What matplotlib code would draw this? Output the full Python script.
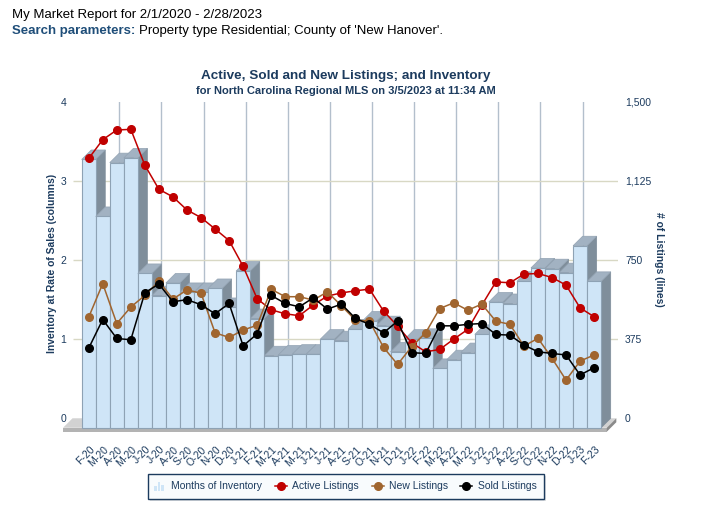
# Active, Sold and New Listings; and Inventory - New Hanover, Feb 2020 - Feb 2023
import numpy as np
import matplotlib.pyplot as plt
from matplotlib.patches import Polygon, Rectangle
from matplotlib.lines import Line2D

plt.rcParams['font.family'] = ['Liberation Sans', 'DejaVu Sans']

# data
months = ['F-20', 'M-20', 'A-20', 'M-20', 'J-20', 'J-20', 'A-20', 'S-20', 'O-20', 'N-20',
          'D-20', 'J-21', 'F-21', 'M-21', 'A-21', 'M-21', 'J-21', 'J-21', 'A-21', 'S-21',
          'O-21', 'N-21', 'D-21', 'J-22', 'F-22', 'M-22', 'A-22', 'M-22', 'J-22', 'J-22',
          'A-22', 'S-22', 'O-22', 'N-22', 'D-22', 'J-23', 'F-23']
inventory = [3.39, 2.67, 3.35, 3.41, 1.95, 1.67, 1.83, 1.71, 1.71, 1.76,
             1.52, 1.98, 1.38, 0.91, 0.92, 0.93, 0.93, 1.12, 1.10, 1.25,
             1.35, 1.29, 0.96, 1.12, 1.13, 0.75, 0.86, 0.95, 1.18, 1.59,
             1.57, 1.85, 2.02, 2.01, 1.96, 2.30, 1.85]
active = [1231, 1320, 1366, 1369, 1199, 1085, 1049, 987, 951, 897,
          842, 720, 566, 514, 495, 486, 537, 579, 594, 604,
          612, 508, 437, 358, 315, 326, 375, 421, 536, 646,
          642, 683, 686, 667, 631, 523, 481]
new_listings = [479, 638, 449, 527, 582, 649, 565, 608, 593, 405,
                383, 418, 441, 611, 576, 576, 560, 599, 533, 465,
                460, 336, 255, 339, 405, 520, 547, 512, 541, 460,
                445, 342, 379, 284, 181, 271, 300]
sold = [332, 468, 378, 372, 595, 636, 552, 562, 538, 495,
        544, 343, 400, 582, 544, 528, 571, 517, 541, 473,
        445, 405, 460, 311, 307, 438, 438, 445, 449, 397,
        394, 347, 315, 307, 300, 205, 240]

navy = '#1c3b5e'
W, H = 707, 515
fig = plt.figure(figsize=(W / 100, H / 100), dpi=100)

# main axes in pixel positions
l_px, r_px, t_px, b_px = 73, 618, 101.7, 434.1
ax = fig.add_axes([l_px / W, 1 - b_px / H, (r_px - l_px) / W, (b_px - t_px) / H])
ax.set_xlim(-1.118, 37.70)
ax.set_ylim(-0.2, 4)
for s in ax.spines.values():
    s.set_visible(False)

dx, dy = 0.68, 0.12  # 3d depth offset

# back wall grid
for b in np.arange(1.5, 35, 3):
    ax.plot([b + dx, b + dx], [0, 4], color='#b3bfcc', lw=1, zorder=1)
ax.hlines([1, 2, 3], -1.118, 37.70, color='#d8d8c4', lw=1, zorder=1)

# floor slab
fl, fr, th = -1.83, 36.9, 0.05
ax.add_patch(Polygon([(fl, -dy), (fr, -dy), (fr + dx, 0), (fl + dx, 0)],
                     fc='#d2d2d2', ec='none', zorder=1.5, clip_on=False))
ax.add_patch(Polygon([(fl, -dy), (fr, -dy), (fr, -dy - th), (fl, -dy - th)],
                     fc='#b3b3b3', ec='none', zorder=1.5, clip_on=False))
ax.add_patch(Polygon([(fr, -dy - th), (fr, -dy), (fr + dx, 0), (fr + dx, -th)],
                     fc='#8a8a8a', ec='none', zorder=1.5, clip_on=False))

# 3d columns, left to right
for i, v in enumerate(inventory):
    z = 2 + i * 0.003
    x0, x1 = i - 0.5, i + 0.5
    ax.add_patch(Polygon([(x1, -dy), (x1, v - dy), (x1 + dx, v), (x1 + dx, 0)],
                         fc='#7f8e9b', ec='#7f8e9b', lw=0.5, zorder=z, clip_on=False))
    ax.add_patch(Polygon([(x0, v - dy), (x1, v - dy), (x1 + dx, v), (x0 + dx, v)],
                         fc='#a2b2c2', ec='#93a3b3', lw=0.5, zorder=z + 0.001, clip_on=False))
    ax.add_patch(Rectangle((x0, -dy), 1, v, fc='#cfe5f7', ec='#8ea2b4', lw=0.8,
                           zorder=z + 0.002, clip_on=False))

x = np.arange(len(months))
ax.set_xticks([])
for i, m in enumerate(months):
    ax.text(i + 0.3, -0.375, m, rotation=45, ha='right', va='center',
            rotation_mode='anchor', fontsize=7.5, color=navy, clip_on=False)

ax.set_yticks([0, 1, 2, 3, 4])
ax.tick_params(axis='y', length=0, pad=5, labelsize=7.5, labelcolor=navy)

# listings on the right axis
ax2 = ax.twinx()
ax2.set_ylim(-75, 1500)
ax2.patch.set_visible(False)
for s in ax2.spines.values():
    s.set_visible(False)
ax2.plot(x, active, '-o', color='#c00000', lw=1.1, ms=5.5, zorder=5)
ax2.plot(x, new_listings, '-o', color='#a0652f', lw=1.1, ms=5.5, zorder=5)
ax2.plot(x, sold, '-o', color='black', lw=1.1, ms=5.5, zorder=5)
ax2.set_yticks([0, 375, 750, 1125, 1500])
ax2.set_yticklabels(['0', '375', '750', '1,125', '1,500'])
ax2.tick_params(axis='y', length=0, pad=5, labelsize=7.5, labelcolor=navy)

# axis names
fig.text(52 / W, 1 - 263 / H, 'Inventory at Rate of Sales (columns)', rotation=90,
         ha='center', va='center', fontsize=7.5, weight='bold', color=navy)
fig.text(659 / W, 1 - 259 / H, '# of Listings (lines)', rotation=270,
         ha='center', va='center', fontsize=7.5, weight='bold', color=navy)

# titles
fig.text(345.5 / W, 1 - 76 / H, 'Active, Sold and New Listings; and Inventory',
         ha='center', va='center', fontsize=9.7, weight='bold', color=navy)
fig.text(345.5 / W, 1 - 91 / H, 'for North Carolina Regional MLS on 3/5/2023 at 11:34 AM',
         ha='center', va='center', fontsize=8, weight='bold', color=navy)

# report header
fig.text(12 / W, 1 - 15 / H, 'My Market Report for 2/1/2020 - 2/28/2023',
         ha='left', va='center', fontsize=9.5, color='black')
sp = fig.text(12 / W, 1 - 31 / H, 'Search parameters:', ha='left', va='center',
              fontsize=9.5, weight='bold', color='#1f4e79')
bb = sp.get_window_extent(renderer=fig.canvas.get_renderer())
fig.text((bb.x1 + 3.5) / W, 1 - 31 / H, "Property type Residential; County of 'New Hanover'.",
         ha='left', va='center', fontsize=9.5, color='black')

# legend box
lax = fig.add_axes([140 / W, 1 - 505 / H, 415 / W, 40 / H])
lax.set_xlim(140, 555)
lax.set_ylim(505, 465)
lax.axis('off')
lax.add_patch(Rectangle((149.5, 475.5), 397, 25, fc='#c8ccd0', ec='none', alpha=0.6))
lax.add_patch(Rectangle((147.5, 473.5), 397, 25, fc='#f8fbfd', ec=navy, lw=1))
for bx, bh in zip([154, 157.5, 161], [5, 9, 6]):
    lax.add_patch(Rectangle((bx, 491 - bh), 2.6, bh, fc='#cfe5f7', ec='none'))
lax.text(170.7, 486, 'Months of Inventory', va='center', fontsize=7.5, color=navy)
for mx, col, lbl in [(280.5, '#c00000', 'Active Listings'),
                     (377.5, '#a0652f', 'New Listings'),
                     (466.5, 'black', 'Sold Listings')]:
    lax.add_line(Line2D([mx - 6, mx + 6], [486, 486], color=col, lw=1.1))
    lax.add_line(Line2D([mx], [486], marker='o', ms=5.5, color=col))
    lax.text(mx + 11.5, 486, lbl, va='center', fontsize=7.5, color=navy)

fig.savefig('out.png', dpi=100)
